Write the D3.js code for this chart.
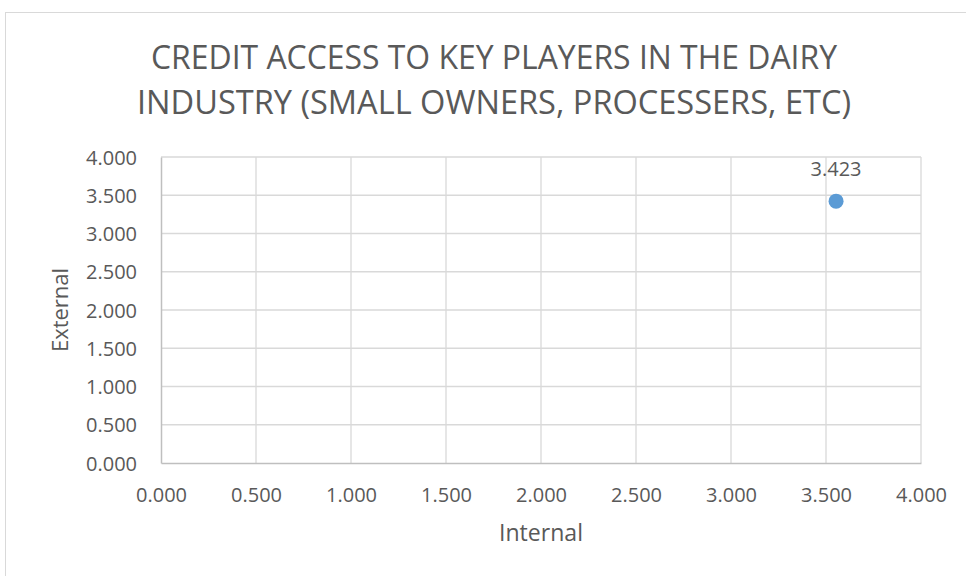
<!DOCTYPE html>
<html>
<head>
<meta charset="utf-8">
<script src="https://cdn.jsdelivr.net/npm/d3@7"></script>
<style>
  body { margin: 0; background: #fff; }
  svg text { font-family: "Open Sans", sans-serif; fill: #595959; }
</style>
</head>
<body>
<div id="chart"></div>
<script>
// chart data
var titleLines = ["CREDIT ACCESS TO KEY PLAYERS IN THE DAIRY", "INDUSTRY (SMALL OWNERS, PROCESSERS, ETC)"];
var internalValues = [3.553];
var externalValues = [3.423];
var tickValues = [0, 0.5, 1, 1.5, 2, 2.5, 3, 3.5, 4];
var xLabel = "Internal";
var yLabel = "External";

var width = 966, height = 576;
var margin = { top: 157, right: 45, bottom: 113, left: 161 };

var svg = d3.select("#chart")
  .append("svg")
  .attr("width", width)
  .attr("height", height);

// outer chart border
svg.append("rect")
  .attr("x", 5.5).attr("y", 12.5)
  .attr("width", 1000).attr("height", 600)
  .attr("fill", "none")
  .attr("stroke", "#d9d9d9");

var x = d3.scaleLinear().domain([0, 4]).range([margin.left, width - margin.right]);
var y = d3.scaleLinear().domain([0, 4]).range([height - margin.bottom, margin.top]);

// gridlines
svg.append("g").selectAll("line")
  .data(tickValues.slice(1))
  .enter().append("line")
  .attr("x1", function (d) { return x(d); })
  .attr("x2", function (d) { return x(d); })
  .attr("y1", y(0)).attr("y2", y(4))
  .attr("stroke", "#d9d9d9").attr("stroke-width", 1.3);

svg.append("g").selectAll("line")
  .data(tickValues.slice(1))
  .enter().append("line")
  .attr("x1", x(0)).attr("x2", x(4))
  .attr("y1", function (d) { return y(d); })
  .attr("y2", function (d) { return y(d); })
  .attr("stroke", "#d9d9d9").attr("stroke-width", 1.3);

// axes
var xAxis = svg.append("g")
  .attr("transform", "translate(0," + y(0) + ")")
  .call(d3.axisBottom(x).tickValues(tickValues).tickFormat(d3.format(".3f")).tickSize(0).tickPadding(0));
xAxis.select(".domain").attr("stroke", "#bfbfbf").attr("stroke-width", 1.5);
xAxis.selectAll("text").attr("font-size", 20).attr("fill", "#595959")
  .attr("dy", null).attr("y", 39);

var yAxis = svg.append("g")
  .attr("transform", "translate(" + x(0) + ",0)")
  .call(d3.axisLeft(y).tickValues(tickValues).tickFormat(d3.format(".3f")).tickSize(0).tickPadding(24));
yAxis.select(".domain").attr("stroke", "#bfbfbf").attr("stroke-width", 1.5);
yAxis.selectAll("text").attr("font-size", 20).attr("fill", "#595959")
  .attr("dy", "0.36em");

// title
svg.append("g").selectAll("text")
  .data(titleLines)
  .enter().append("text")
  .attr("x", 494)
  .attr("y", function (d, i) { return 69 + i * 45; })
  .attr("text-anchor", "middle")
  .attr("font-size", 33)
  .attr("textLength", function (d, i) { return i === 0 ? 686 : 714; })
  .attr("lengthAdjust", "spacingAndGlyphs")
  .text(function (d) { return d; });

// axis titles
svg.append("text")
  .attr("x", (x(0) + x(4)) / 2)
  .attr("y", 541)
  .attr("text-anchor", "middle")
  .attr("font-size", 23)
  .attr("textLength", 84)
  .attr("lengthAdjust", "spacingAndGlyphs")
  .text(xLabel);

svg.append("text")
  .attr("transform", "translate(68," + (y(2)) + ") rotate(-90)")
  .attr("text-anchor", "middle")
  .attr("font-size", 22)
  .text(yLabel);

// points
var points = internalValues.map(function (v, i) { return { x: v, y: externalValues[i] }; });

svg.append("g").selectAll("circle")
  .data(points)
  .enter().append("circle")
  .attr("cx", function (d) { return x(d.x); })
  .attr("cy", function (d) { return y(d.y); })
  .attr("r", 7.5)
  .attr("fill", "#5b9bd5");

// data labels
svg.append("g").selectAll("text")
  .data(points)
  .enter().append("text")
  .attr("x", function (d) { return x(d.x); })
  .attr("y", function (d) { return y(d.y) - 25; })
  .attr("text-anchor", "middle")
  .attr("font-size", 20)
  .attr("fill", "#404040")
  .text(function (d) { return d3.format(".3f")(d.y); });
</script>
</body>
</html>
